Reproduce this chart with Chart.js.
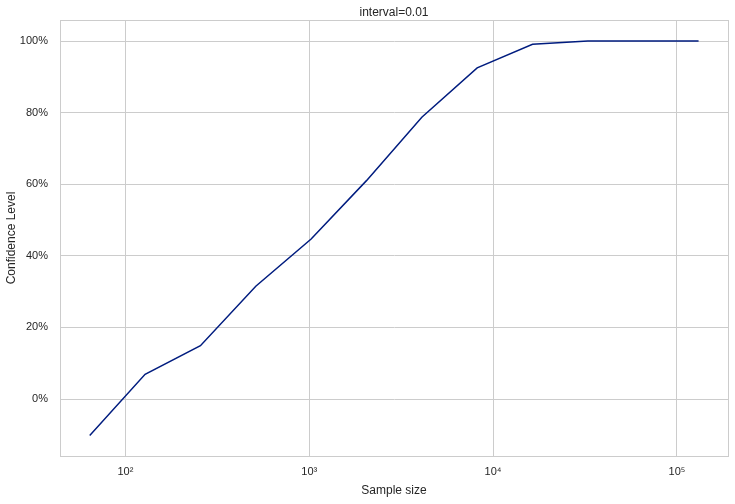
<!DOCTYPE html>
<html>
<head>
<meta charset="utf-8">
<script src="https://cdn.jsdelivr.net/npm/chart.js@4/dist/chart.umd.min.js"></script>
<style>
  html, body { margin: 0; padding: 0; background: #fff; }
  #wrap { width: 735px; height: 504px; }
</style>
</head>
<body>
<div id="wrap"><canvas id="chart" width="735" height="504"></canvas></div>
<script>
// values
const sampleSizes = [64, 128, 256, 512, 1024, 2048, 4096, 8192, 16384, 32768, 65536, 131072];
const confidence = [-0.102, 0.069, 0.149, 0.315, 0.447, 0.61, 0.787, 0.925, 0.991, 1.0, 1.0, 1.0];
const xTicks = [100, 1000, 10000, 100000];
const yTicks = [0, 0.2, 0.4, 0.6, 0.8, 1.0];

const SUP = { '0': '⁰', '1': '¹', '2': '²', '3': '³', '4': '⁴', '5': '⁵', '6': '⁶' };
const TEXT = '#262626';
const GRID = '#cccccc';
const FONT = "'Liberation Sans', Arial, sans-serif";

// box around the plot area (top/right spines)
const frame = {
    id: 'frame',
    afterDraw(chart) {
        const { ctx, chartArea: a } = chart;
        ctx.save();
        ctx.strokeStyle = GRID;
        ctx.lineWidth = 1;
        ctx.strokeRect(Math.round(a.left) + 0.5, Math.round(a.top) + 0.5,
            Math.round(a.right - a.left), Math.round(a.bottom - a.top));
        ctx.restore();
    }
};

new Chart(document.getElementById('chart'), {
    type: 'line',
    data: {
        datasets: [{
            data: sampleSizes.map((x, i) => ({ x: x, y: confidence[i] })),
            borderColor: '#001c7f',
            borderWidth: 1.5,
            pointRadius: 0,
            tension: 0,
            fill: false,
        }]
    },
    plugins: [frame],
    options: {
        responsive: false,
        animation: false,
        layout: { padding: { left: 0, right: 7, top: 0, bottom: 0 } },
        plugins: {
            legend: { display: false },
            tooltip: { enabled: false },
            title: {
                display: true,
                text: 'interval=0.01',
                fullSize: false,
                color: TEXT,
                font: { family: FONT, size: 12, weight: 'normal' },
                padding: { top: 5, bottom: 0.6 },
            },
        },
        scales: {
            x: {
                type: 'logarithmic',
                min: 44.1,
                max: 189500,
                afterBuildTicks(scale) {
                    scale.ticks = xTicks.map(v => ({ value: v }));
                },
                afterFit(scale) { scale.height = 48; },
                ticks: {
                    autoSkip: false,
                    maxRotation: 0,
                    minRotation: 0,
                    padding: 9,
                    color: TEXT,
                    font: { family: FONT, size: 11 },
                    callback: v => '10' + String(Math.round(Math.log10(v))).split('').map(c => SUP[c]).join(''),
                },
                grid: { color: GRID, drawTicks: false, lineWidth: 1 },
                border: { color: GRID },
                title: {
                    display: true,
                    text: 'Sample size',
                    color: TEXT,
                    font: { family: FONT, size: 12 },
                    padding: { top: 0, bottom: 6 },
                },
            },
            y: {
                type: 'linear',
                min: -0.1592,
                max: 1.0587,
                afterBuildTicks(scale) {
                    scale.ticks = yTicks.map(v => ({ value: v }));
                },
                afterFit(scale) { scale.width = 60; },
                ticks: {
                    padding: 12,
                    color: TEXT,
                    font: { family: FONT, size: 11 },
                    callback: v => Math.round(v * 100) + '%',
                },
                grid: { color: GRID, drawTicks: false, lineWidth: 1 },
                border: { color: GRID },
                title: {
                    display: true,
                    text: 'Confidence Level',
                    color: TEXT,
                    font: { family: FONT, size: 12 },
                    padding: { top: 4, bottom: 4 },
                },
            },
        },
    },
});
</script>
</body>
</html>
